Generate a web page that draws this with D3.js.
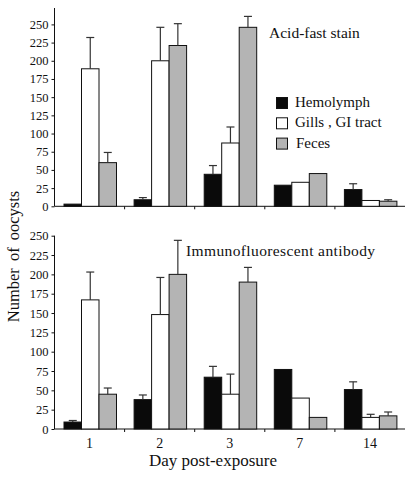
<!DOCTYPE html>
<html><head><meta charset="utf-8">
<script src="https://cdn.jsdelivr.net/npm/d3@7"></script>
<style>
html,body{margin:0;padding:0;background:#fff;}
svg text{font-family:"Liberation Serif","Times New Roman",serif !important;fill:#111;}
</style></head>
<body><svg id="c" width="417" height="477"></svg>
<script>
const days = ["1","2","3","7","14"];
const seriesNames = ["Hemolymph","Gills , GI tract","Feces"];
const seriesColors = ["#0a0a0a","#ffffff","#b4b4b4"];
const yTicks = [0,25,50,75,100,125,150,175,200,225,250];

// Acid-fast stain (top panel)
const acidHemolymph = [3, 9, 44, 29, 23];
const acidGills = [189, 200, 87, 33, 8];
const acidFeces = [60, 221, 246, 45, 7];
const acidHemolymphErr = [3, 12, 56, null, 31];
const acidGillsErr = [232, 246, 109, null, 8];
const acidFecesErr = [74, 251, 261, null, 9];

// Immunofluorescent antibody (bottom panel)
const ifaHemolymph = [9, 38, 67, 77, 51];
const ifaGills = [167, 148, 45, 40, 15];
const ifaFeces = [45, 200, 190, 15, 17];
const ifaHemolymphErr = [11, 44, 81, null, 61];
const ifaGillsErr = [203, 196, 71, null, 19];
const ifaFecesErr = [53, 244, 209, null, 22];

const svg = d3.select("#c");
const serif = '"Liberation Serif","Times New Roman",serif';
const xLeft = 54.5, xRight = 405;

const x0 = d3.scaleBand().domain(days).range([xLeft, xRight]).paddingInner(0).paddingOuter(0);
const x1 = d3.scaleBand().domain(seriesNames).range([9.5, 9.5 + 52.5]);

function panel(cfg){
  const g = svg.append("g");
  const y = d3.scaleLinear().domain([0, cfg.ymax]).range([cfg.y0, cfg.yTop]);
  // y axis
  const ya = d3.axisLeft(y).tickValues(yTicks).tickSize(3).tickPadding(3);
  const yg = g.append("g").attr("transform", `translate(${xLeft},0)`).call(ya)
    .attr("font-family", serif);
  yg.select(".domain").attr("d", `M-0,${cfg.y0}V${cfg.lineTop}`).attr("stroke","#111");
  yg.selectAll(".tick line").attr("stroke","#111");
  yg.selectAll(".tick text").style("font-size","12.5px").style("font-family", serif).attr("fill","#111");
  // x axis
  const xa = d3.axisBottom(x0).tickSize(0).tickFormat(cfg.showLabels ? (d=>d) : (()=>""));
  const xg = g.append("g").attr("transform", `translate(0,${cfg.y0})`).call(xa)
    .attr("font-family", serif);
  xg.select(".domain").attr("d", `M${xLeft},0H${xRight}`).attr("stroke","#111");
  xg.selectAll(".tick text").style("font-size","14px").style("font-family", serif).attr("dy","1.15em").attr("fill","#111");
  // boundary ticks
  xg.selectAll("line.bt").data(days.slice(1)).enter().append("line")
    .attr("class","bt")
    .attr("x1", d=>x0(d)).attr("x2", d=>x0(d)).attr("y1",0).attr("y2",3)
    .attr("stroke","#111");
  // bars
  const vals = cfg.values, errs = cfg.errors;
  seriesNames.forEach((s, si) => {
    const gg = g.append("g");
    days.forEach((d, di) => {
      const v = vals[si][di];
      const bx = x0(d) + x1(s);
      gg.append("rect")
        .attr("x", bx).attr("y", y(v))
        .attr("width", x1.bandwidth()).attr("height", cfg.y0 - y(v))
        .attr("fill", seriesColors[si]).attr("stroke", "#111").attr("stroke-width", 1);
      const e = errs[si][di];
      if (e != null && e > v) {
        const cx = bx + x1.bandwidth()/2;
        gg.append("line").attr("x1",cx).attr("x2",cx).attr("y1",y(v)).attr("y2",y(e))
          .attr("stroke","#333").attr("stroke-width",1.2);
        gg.append("line").attr("x1",cx-4).attr("x2",cx+4).attr("y1",y(e)).attr("y2",y(e))
          .attr("stroke","#333").attr("stroke-width",1.2);
      }
    });
  });
  return y;
}

panel({
  y0: 206.3, yTop: 24.4, ymax: 250, lineTop: 8, showLabels: false,
  values: [acidHemolymph, acidGills, acidFeces],
  errors: [acidHemolymphErr, acidGillsErr, acidFecesErr]
});
panel({
  y0: 429, yTop: 235.7, ymax: 250, lineTop: 235.7, showLabels: true,
  values: [ifaHemolymph, ifaGills, ifaFeces],
  errors: [ifaHemolymphErr, ifaGillsErr, ifaFecesErr]
});

// titles
svg.append("text").attr("x", 269).attr("y", 38).style("font-size","15.5px").text("Acid-fast stain");
svg.append("text").attr("x", 186).attr("y", 256).style("font-size","15.5px")
  .attr("textLength", 189).attr("lengthAdjust","spacing").text("Immunofluorescent antibody");

// legend
const leg = svg.append("g");
seriesNames.forEach((s, i) => {
  const yy = 97.5 + i*20.3;
  leg.append("rect").attr("x", 276.5).attr("y", yy).attr("width", 11).attr("height", 11)
    .attr("fill", seriesColors[i]).attr("stroke", "#111").attr("stroke-width", 1);
  leg.append("text").attr("x", i===2 ? 296 : 295).attr("y", yy + 9.5)
    .style("font-size","15px").text(s);
});

// axis labels
svg.append("text").attr("x", 213).attr("y", 466).attr("text-anchor","middle")
  .style("font-size","17px").text("Day post-exposure");
svg.append("text").attr("transform","translate(19,256.5) rotate(-90)").attr("text-anchor","middle")
  .style("font-size","16.5px").style("word-spacing","3px").text("Number of oocysts");
</script></body></html>
